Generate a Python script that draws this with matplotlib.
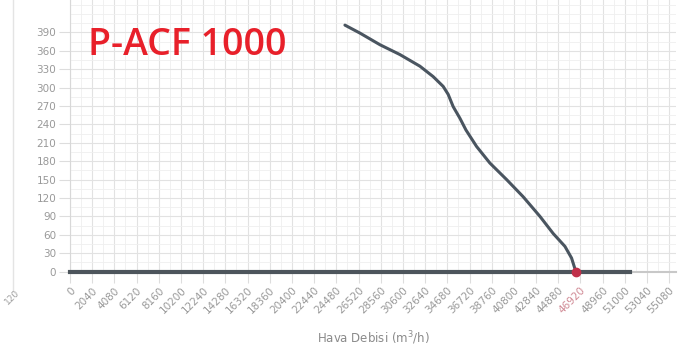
import matplotlib
matplotlib.use("Agg")
from matplotlib import pyplot as plt
from matplotlib.ticker import MultipleLocator
import numpy as np

# fan curve (m3/h, Pa)
flow = [25270, 26650, 28490, 30320, 32160, 33380, 34300, 34760, 35220, 35840,
        36390, 37370, 38590, 40130, 41650, 43190, 44410, 45490, 46100, 46400, 46500]
pressure = [402, 389, 370, 354, 335, 318, 302, 289, 269, 250,
            231, 204, 177, 150, 122, 90, 62, 41, 22, 5, 0]

# system / zero line
base_flow = [0, 51460]
base_pressure = [0, 0]

op_flow = 46500
op_pressure = 0

x_ticks = list(range(0, 55081, 2040))
y_ticks = list(range(0, 391, 30))

title = "P-ACF 1000"
x_label = "Hava Debisi (m$^3$/h)"

fig = plt.figure(figsize=(6.97, 3.5), dpi=100)
ax = fig.add_axes([70 / 697, 78.5 / 350, 606 / 697, 271.5 / 350])

ax.set_xlim(0, 55700)
ax.set_ylim(0, 443)

ax.set_xticks(x_ticks)
ax.set_yticks(y_ticks)
ax.xaxis.set_minor_locator(MultipleLocator(1020))
ax.yaxis.set_minor_locator(MultipleLocator(15))
ax.grid(True, which="major", color="#e2e2e2", lw=0.8)
ax.grid(True, which="minor", color="#efefef", lw=0.6)
ax.set_axisbelow(True)

for s in ["top", "right"]:
    ax.spines[s].set_visible(False)
ax.spines["left"].set_color("#d8d8d8")
ax.spines["bottom"].set_color("#c8c8c8")
ax.spines["bottom"].set_linewidth(1.5)

ax.tick_params(axis="both", which="major", length=8, width=0.8, color="#dddddd",
               pad=2, labelsize=7.5, labelcolor="#999999")
ax.tick_params(axis="both", which="minor", length=0)
ax.set_xticklabels([str(v) for v in x_ticks], rotation=45, ha="right", rotation_mode="anchor")

ax.plot(base_flow, base_pressure, color="#4d555c", lw=3, clip_on=False, zorder=3)
ax.plot(flow, pressure, color="#4a5560", lw=2.2, clip_on=False, zorder=4,
        solid_joinstyle="round", solid_capstyle="round")
ax.plot(op_flow, op_pressure, "o", color="#c0304a", ms=6, clip_on=False, zorder=5)

for lab in ax.get_xticklabels():
    if lab.get_text() == "46920":
        lab.set_color("#d08a95")

ax.set_xlabel(x_label, fontsize=8.5, color="#8a8a8a", labelpad=10)

ax.text((88 - 70) / 606, (271.5 - 45) / 271.5, title, transform=ax.transAxes, fontsize=27,
        color="#e8202a", fontfamily="Open Sans", fontweight="semibold", va="center")

# edge of the neighbouring chart on the left
fig.add_artist(plt.Line2D([13 / 697, 13 / 697], [0.17, 1.0], color="#e4e4e4", lw=1))
fig.text(0.004, 0.13, "120", rotation=45, fontsize=6.5, color="#a0a0a0")

fig.savefig("out.png", dpi=100)
